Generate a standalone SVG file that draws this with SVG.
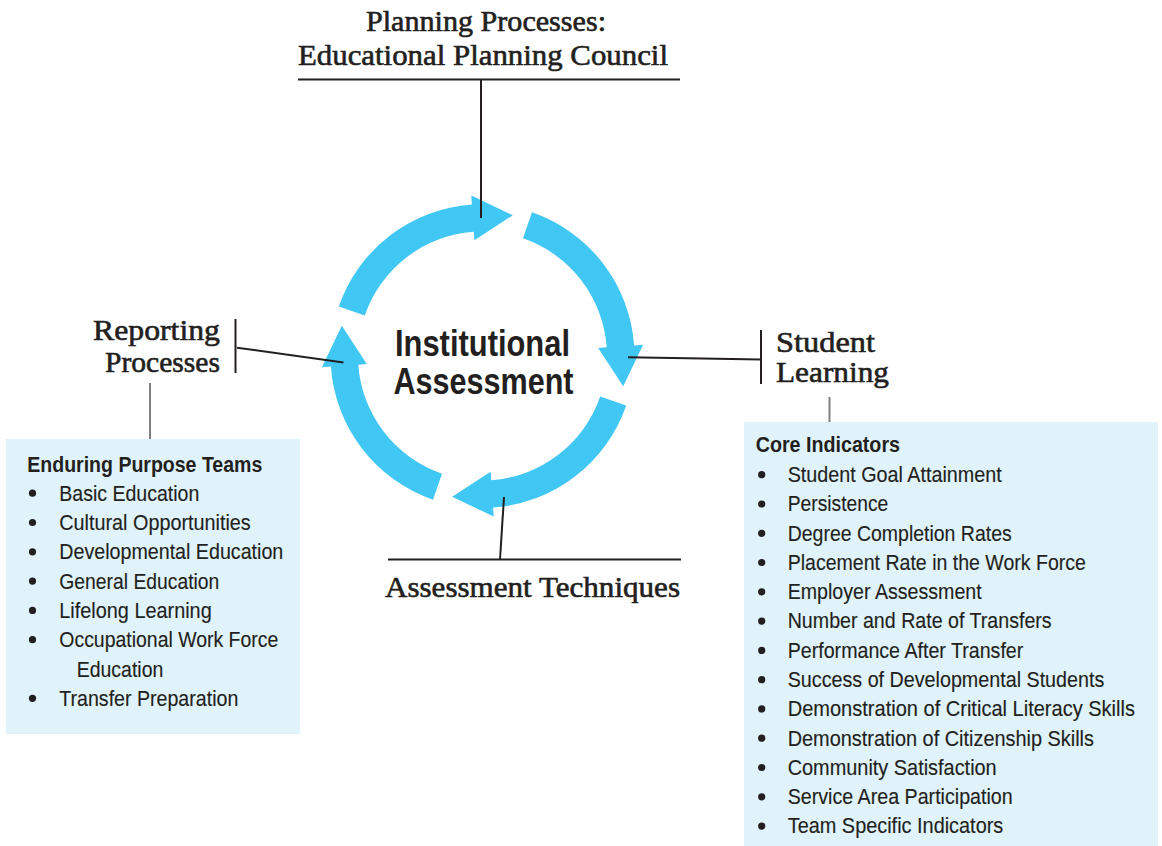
<svg xmlns="http://www.w3.org/2000/svg" xmlns:xlink="http://www.w3.org/1999/xlink" width="1162" height="846" viewBox="0 0 1162 846">
<style>
.serif{font-family:"Liberation Serif","Times New Roman",serif;font-size:29px;fill:#231f20;stroke:#231f20;stroke-width:0.6px}
.sans{font-family:"Liberation Sans",Arial,sans-serif;font-size:22.3px;fill:#231f20;stroke:#231f20;stroke-width:0.15px}
.head{font-family:"Liberation Sans",Arial,sans-serif;font-size:22px;font-weight:bold;fill:#231f20}
.title{font-family:"Liberation Sans",Arial,sans-serif;font-size:36px;font-weight:bold;fill:#231f20}
.blk{stroke:#231f20;stroke-width:2;fill:none}
.gry{stroke:#808080;stroke-width:2;fill:none}
.box{fill:#e0f3fb}
.ring{fill:#41c7f3}
.dot{fill:#231f20}
</style>
<defs>
<path id="seg" d="M -143.7,-49.5 A 152 152 0 0 1 -10.6,-151.6 L -11.2,-160.6 L 30.3,-140.7 L -8.1,-115.7 L -8.7,-124.2 A 124.5 124.5 0 0 0 -117.7,-40.5 Z"/>
</defs>
<rect width="1162" height="846" fill="#ffffff"/>

<g id="cycle" transform="translate(482.5,356)">
<use xlink:href="#seg" href="#seg" class="ring"/>
<use xlink:href="#seg" href="#seg" class="ring" transform="rotate(90)"/>
<use xlink:href="#seg" href="#seg" class="ring" transform="rotate(180)"/>
<use xlink:href="#seg" href="#seg" class="ring" transform="rotate(270)"/>
</g>

<g id="center">
<text class="title" x="395" y="355.7" textLength="175" lengthAdjust="spacingAndGlyphs">Institutional</text>
<text class="title" x="393.5" y="394" textLength="180" lengthAdjust="spacingAndGlyphs">Assessment</text>
</g>

<g id="connectors">
<line class="blk" x1="298" y1="79.5" x2="680" y2="79.5"/>
<line class="blk" x1="481" y1="79.5" x2="481" y2="218"/>
<line class="blk" x1="628" y1="357.3" x2="761" y2="359.5"/>
<line class="blk" x1="761" y1="330" x2="761" y2="384"/>
<line class="blk" x1="504" y1="497" x2="500" y2="559.5"/>
<line class="blk" x1="388" y1="559.5" x2="681" y2="559.5"/>
<line class="blk" x1="237" y1="347.7" x2="343.5" y2="362.5"/>
<line class="blk" x1="235.5" y1="319" x2="235.5" y2="373"/>
<line class="gry" x1="150" y1="383" x2="150" y2="439"/>
<line class="gry" x1="829.5" y1="397" x2="829.5" y2="422"/>
</g>

<g id="planning">
<text class="serif" x="366" y="30.5" textLength="240" lengthAdjust="spacingAndGlyphs">Planning Processes:</text>
<text class="serif" x="298" y="65" textLength="370" lengthAdjust="spacingAndGlyphs">Educational Planning Council</text>
</g>

<g id="reporting">
<text class="serif" x="93" y="340" textLength="127" lengthAdjust="spacingAndGlyphs">Reporting</text>
<text class="serif" x="105" y="371.7" textLength="115" lengthAdjust="spacingAndGlyphs">Processes</text>
</g>

<g id="student-learning">
<text class="serif" x="776" y="351.7" textLength="99" lengthAdjust="spacingAndGlyphs">Student</text>
<text class="serif" x="776" y="382.3" textLength="113" lengthAdjust="spacingAndGlyphs">Learning</text>
</g>

<g id="assessment-techniques">
<text class="serif" x="385" y="597.3" textLength="295" lengthAdjust="spacingAndGlyphs">Assessment Techniques</text>
</g>

<g id="enduring-purpose-teams">
<rect class="box" x="6" y="439" width="294" height="295"/>
<text class="head" x="27.3" y="471.7" textLength="235" lengthAdjust="spacingAndGlyphs">Enduring Purpose Teams</text>
<circle class="dot" cx="32.5" cy="493.2" r="3.6"/>
<text class="sans" x="59.3" y="500.7" textLength="140" lengthAdjust="spacingAndGlyphs">Basic Education</text>
<circle class="dot" cx="32.5" cy="522.5" r="3.6"/>
<text class="sans" x="59.3" y="530" textLength="191.4" lengthAdjust="spacingAndGlyphs">Cultural Opportunities</text>
<circle class="dot" cx="32.5" cy="551.8" r="3.6"/>
<text class="sans" x="59.3" y="559.3" textLength="224" lengthAdjust="spacingAndGlyphs">Developmental Education</text>
<circle class="dot" cx="32.5" cy="581.1" r="3.6"/>
<text class="sans" x="59.3" y="588.6" textLength="160" lengthAdjust="spacingAndGlyphs">General Education</text>
<circle class="dot" cx="32.5" cy="610.4" r="3.6"/>
<text class="sans" x="59.3" y="617.9" textLength="152.4" lengthAdjust="spacingAndGlyphs">Lifelong Learning</text>
<circle class="dot" cx="32.5" cy="639.7" r="3.6"/>
<text class="sans" x="59.3" y="647.2" textLength="219" lengthAdjust="spacingAndGlyphs">Occupational Work Force</text>
<text class="sans" x="76.7" y="676.5" textLength="86.6" lengthAdjust="spacingAndGlyphs">Education</text>
<circle class="dot" cx="32.5" cy="698.3" r="3.6"/>
<text class="sans" x="59.3" y="705.8" textLength="179" lengthAdjust="spacingAndGlyphs">Transfer Preparation</text>
</g>

<g id="core-indicators">
<rect class="box" x="744" y="422" width="414" height="424"/>
<text class="head" x="755.7" y="451.7" textLength="144.3" lengthAdjust="spacingAndGlyphs">Core Indicators</text>
<circle class="dot" cx="761.7" cy="474.7" r="3.6"/>
<text class="sans" x="787.7" y="482" textLength="214" lengthAdjust="spacingAndGlyphs">Student Goal Attainment</text>
<circle class="dot" cx="761.7" cy="504" r="3.6"/>
<text class="sans" x="787.7" y="511.3" textLength="100.6" lengthAdjust="spacingAndGlyphs">Persistence</text>
<circle class="dot" cx="761.7" cy="533.3" r="3.6"/>
<text class="sans" x="787.7" y="540.6" textLength="224" lengthAdjust="spacingAndGlyphs">Degree Completion Rates</text>
<circle class="dot" cx="761.7" cy="562.5" r="3.6"/>
<text class="sans" x="787.7" y="569.8" textLength="298.3" lengthAdjust="spacingAndGlyphs">Placement Rate in the Work Force</text>
<circle class="dot" cx="761.7" cy="591.8" r="3.6"/>
<text class="sans" x="787.7" y="599.1" textLength="194" lengthAdjust="spacingAndGlyphs">Employer Assessment</text>
<circle class="dot" cx="761.7" cy="621.1" r="3.6"/>
<text class="sans" x="787.7" y="628.4" textLength="264" lengthAdjust="spacingAndGlyphs">Number and Rate of Transfers</text>
<circle class="dot" cx="761.7" cy="650.4" r="3.6"/>
<text class="sans" x="787.7" y="657.7" textLength="235.6" lengthAdjust="spacingAndGlyphs">Performance After Transfer</text>
<circle class="dot" cx="761.7" cy="679.7" r="3.6"/>
<text class="sans" x="787.7" y="687" textLength="316.6" lengthAdjust="spacingAndGlyphs">Success of Developmental Students</text>
<circle class="dot" cx="761.7" cy="708.9" r="3.6"/>
<text class="sans" x="787.7" y="716.2" textLength="347.3" lengthAdjust="spacingAndGlyphs">Demonstration of Critical Literacy Skills</text>
<circle class="dot" cx="761.7" cy="738.2" r="3.6"/>
<text class="sans" x="787.7" y="745.5" textLength="306.3" lengthAdjust="spacingAndGlyphs">Demonstration of Citizenship Skills</text>
<circle class="dot" cx="761.7" cy="767.5" r="3.6"/>
<text class="sans" x="787.7" y="774.8" textLength="209" lengthAdjust="spacingAndGlyphs">Community Satisfaction</text>
<circle class="dot" cx="761.7" cy="796.8" r="3.6"/>
<text class="sans" x="787.7" y="804.1" textLength="225" lengthAdjust="spacingAndGlyphs">Service Area Participation</text>
<circle class="dot" cx="761.7" cy="826.1" r="3.6"/>
<text class="sans" x="787.7" y="833.4" textLength="215.6" lengthAdjust="spacingAndGlyphs">Team Specific Indicators</text>
</g>
</svg>
